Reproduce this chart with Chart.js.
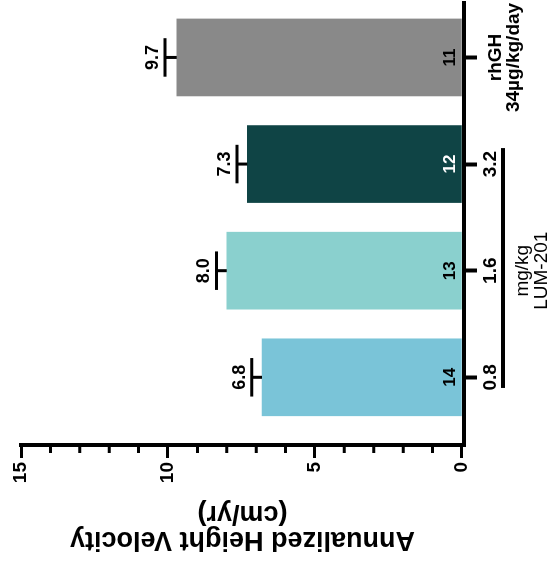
<!DOCTYPE html>
<html>
<head>
<meta charset="utf-8">
<script src="https://cdn.jsdelivr.net/npm/chart.js@4.4.1/dist/chart.umd.min.js"></script>
<style>
  html, body { margin: 0; padding: 0; background: #fff; overflow: hidden; }
  /* the figure is drawn upright and then turned a quarter turn to the left */
  #wrap { position: absolute; left: 0; top: 0; width: 563px; height: 548px;
          transform-origin: 0 0; transform: translate(0, 563px) rotate(-90deg); }
</style>
</head>
<body>
<div id="wrap"><canvas id="chart" width="563" height="548"></canvas></div>
<script>
// values
const doseLabels = ['0.8', '1.6', '3.2', ['rhGH', '34µg/kg/day']];
const meanVelocity = [6.8, 8.0, 7.3, 9.7];
const errUpper = [0.35, 0.35, 0.35, 0.4];
const nPatients = [14, 13, 12, 11];
const yTicks = [0, 5, 10, 15];
const groupLines = ['mg/kg', 'LUM-201'];

const barColors = ['#7AC4D8', '#8AD0CE', '#0F4445', '#898989'];
const countColors = ['#000', '#000', '#fff', '#000'];
const FONT = "'Liberation Sans', Arial, sans-serif";
Chart.defaults.font.family = FONT;
Chart.defaults.color = '#000';

// error bars, value labels, n labels, dose bracket
const annotate = {
  id: 'annotate',
  afterDatasetsDraw(chart) {
    const ctx = chart.ctx;
    const xs = chart.scales.x, ys = chart.scales.y;
    const bars = chart.getDatasetMeta(0).data;
    ctx.save();
    ctx.strokeStyle = '#000';
    ctx.lineWidth = 3;
    ctx.textAlign = 'center';
    ctx.textBaseline = 'alphabetic';
    bars.forEach((bar, i) => {
      const top = ys.getPixelForValue(meanVelocity[i]);
      const cap = ys.getPixelForValue(meanVelocity[i] + errUpper[i]);
      const half = bar.width / 4;
      ctx.beginPath();
      ctx.moveTo(bar.x, top); ctx.lineTo(bar.x, cap);
      ctx.moveTo(bar.x - half, cap); ctx.lineTo(bar.x + half, cap);
      ctx.stroke();
      ctx.fillStyle = '#000';
      ctx.font = 'bold 18px ' + FONT;
      ctx.fillText(meanVelocity[i].toFixed(1), bar.x, cap - 7);
      ctx.fillStyle = countColors[i];
      ctx.font = 'bold 17px ' + FONT;
      ctx.fillText(String(nPatients[i]), bar.x, bar.base - 6.5);
    });

    // minor ticks on the value axis
    ctx.beginPath();
    for (let v = 1; v < 15; v++) {
      if (yTicks.includes(v)) continue;
      const y = ys.getPixelForValue(v);
      ctx.moveTo(ys.right - 2, y); ctx.lineTo(ys.right - 8, y);
    }
    ctx.stroke();

    // LUM-201 dose bracket
    const by = xs.top + 39;
    ctx.lineWidth = 4;
    ctx.beginPath();
    ctx.moveTo(xs.getPixelForValue(0.9), by);
    ctx.lineTo(xs.getPixelForValue(3.15), by);
    ctx.stroke();
    ctx.fillStyle = '#000';
    ctx.font = '19px ' + FONT;
    const cx = xs.getPixelForValue(2);
    ctx.fillText(groupLines[0], cx, xs.top + 63.5);
    ctx.fillText(groupLines[1], cx, xs.top + 82.5);
    ctx.restore();
  }
};

new Chart(document.getElementById('chart'), {
  type: 'bar',
  data: {
    datasets: [{
      data: meanVelocity.map((v, i) => ({ x: i + 1, y: v })),
      backgroundColor: barColors,
      barThickness: 77,
    }],
  },
  options: {
    responsive: false,
    animation: false,
    devicePixelRatio: 1,
    layout: { padding: { top: 21, right: 2, left: 0, bottom: 0 } },
    plugins: { legend: { display: false }, tooltip: { enabled: false } },
    scales: {
      x: {
        type: 'linear', min: 0.365, max: 4.52, offset: false,
        afterBuildTicks: s => { s.ticks = doseLabels.map((_, i) => ({ value: i + 1 })); },
        afterFit: s => { s.height = 84; s.paddingLeft = 0; s.paddingRight = 0; },
        grid: { drawOnChartArea: false, offset: false, tickLength: 13, tickWidth: 4, tickColor: '#000' },
        border: { width: 4, color: '#000' },
        ticks: {
          padding: 10, maxRotation: 0, autoSkip: false,
          callback: (v, i) => doseLabels[i],
          font: c => ({ size: 19, weight: 'bold', lineHeight: Array.isArray(doseLabels[c.index]) ? '18px' : '7px' }),
        },
      },
      y: {
        min: -0.07, max: 15,
        afterBuildTicks: s => { s.ticks = yTicks.map(v => ({ value: v })); },
        afterFit: s => { s.width = 118; s.paddingTop = 0; s.paddingBottom = 0; },
        grid: { drawOnChartArea: false, tickLength: 13, tickWidth: 3, tickColor: '#000' },
        border: { width: 4, color: '#000' },
        ticks: { padding: 4, font: { size: 19, weight: 'bold' } },
        title: {
          display: true,
          text: ['Annualized Height Velocity', '(cm/yr)'],
          font: { size: 27, weight: 'bold', lineHeight: '25.5px' },
          padding: { top: 11, bottom: 0 },
        },
      },
    },
  },
  plugins: [annotate],
});
</script>
</body>
</html>
